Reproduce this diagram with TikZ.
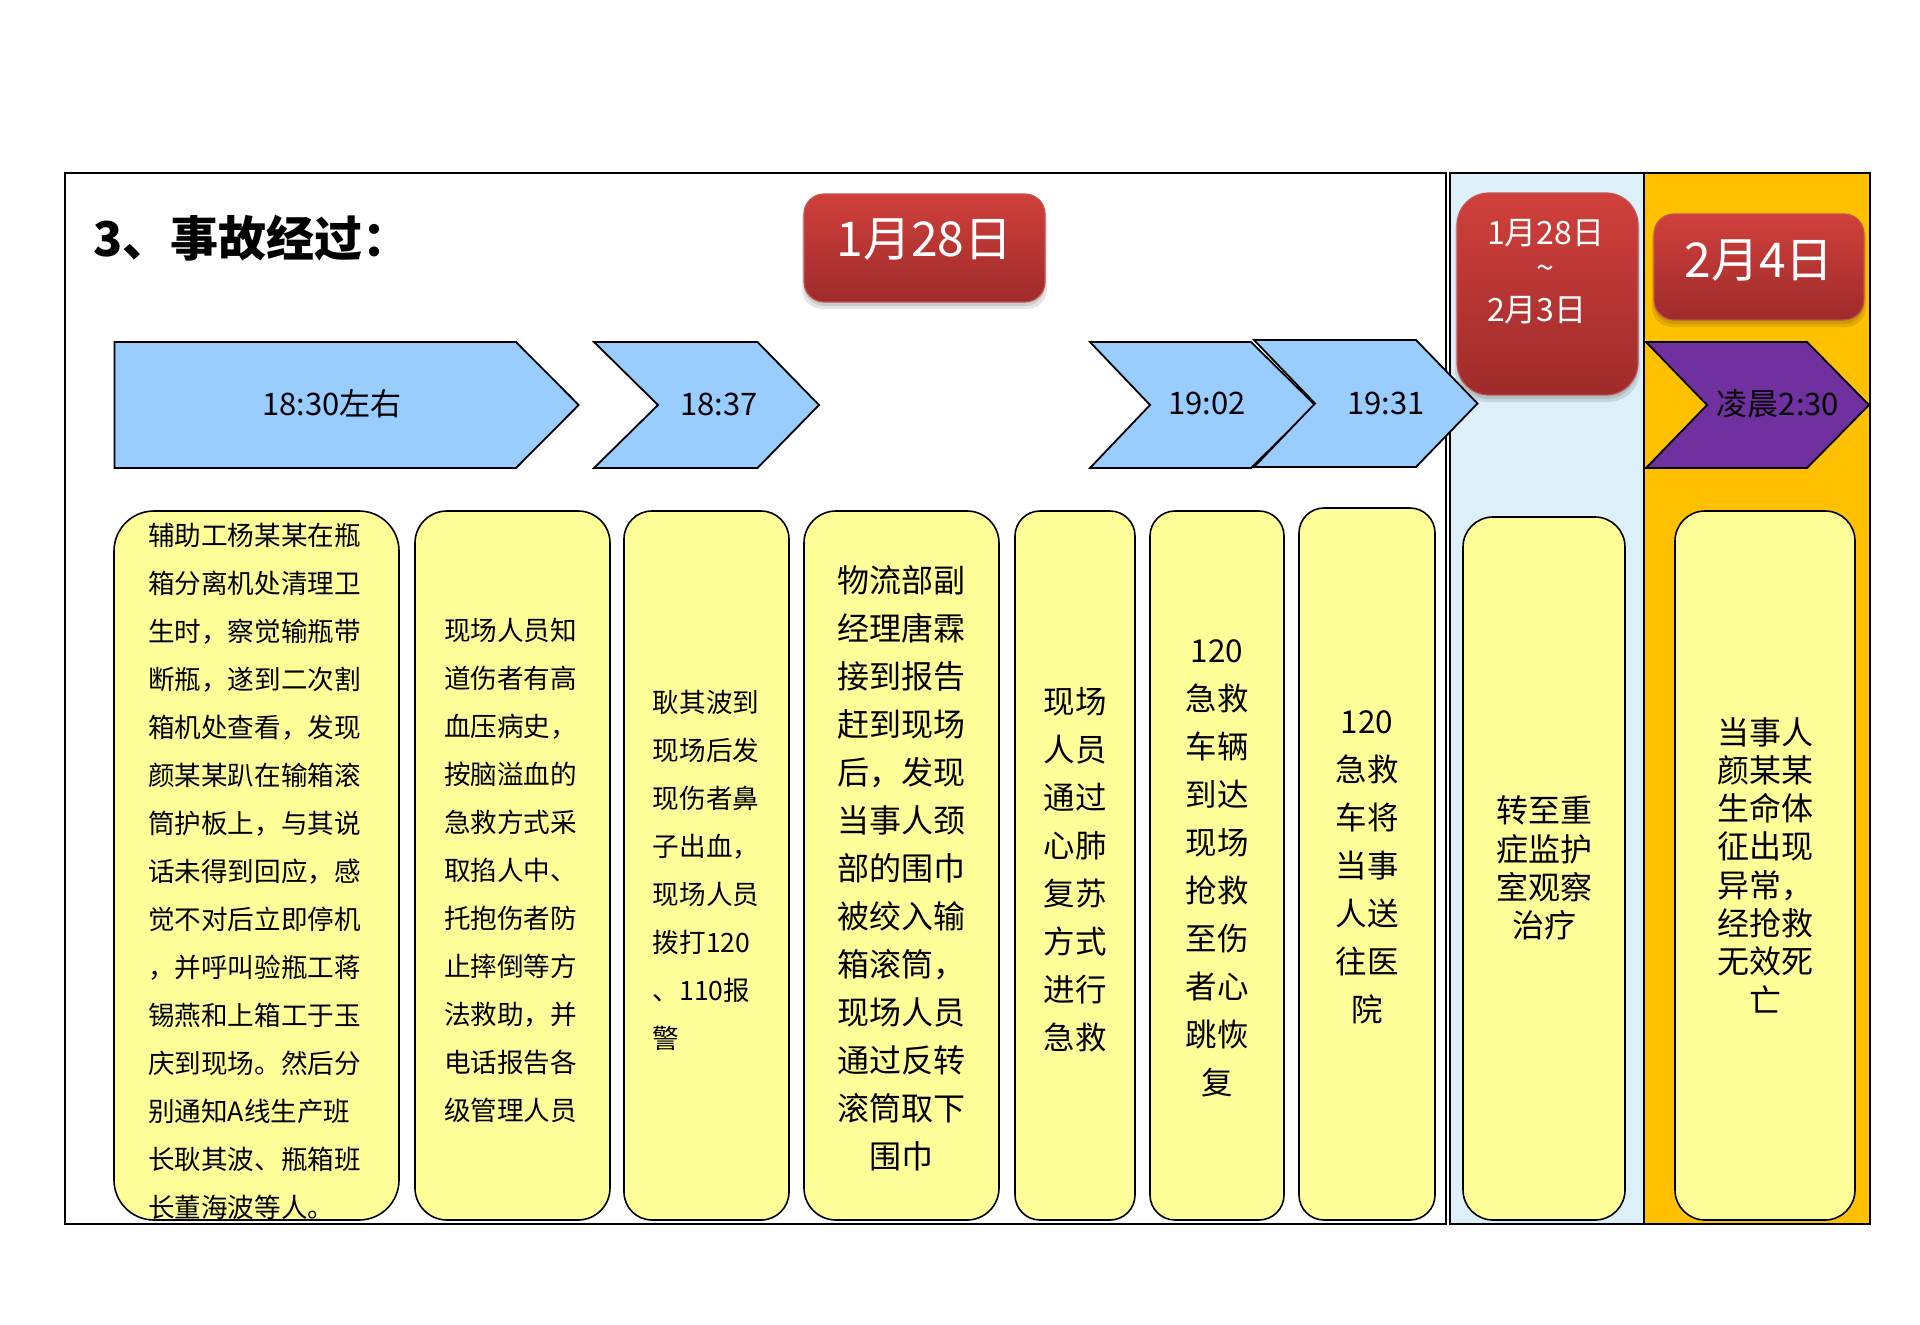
\documentclass[tikz,border=0pt]{standalone}
\usepackage{fontspec}
\setmainfont{Noto Sans CJK SC}
\definecolor{chevblue}{HTML}{99CCFF}
\definecolor{panelblue}{HTML}{DDEFF9}
\definecolor{panelorange}{HTML}{FFC000}
\definecolor{chevpurple}{HTML}{7030A0}
\definecolor{boxyellow}{HTML}{FFFF99}
\definecolor{redtop}{HTML}{D0403B}
\definecolor{redbot}{HTML}{9E2B2B}
\definecolor{redline}{HTML}{C25450}
\begin{document}
\begin{tikzpicture}[x=1pt,y=-1pt,
  ybox/.style={draw=black, line width=1.6pt, fill=boxyellow, inner sep=0pt},
  chev/.style={draw=black, line width=1.8pt, fill=chevblue, line join=miter},
  badgebox/.style={draw=redline, line width=1.2pt, top color=redtop, bottom color=redbot, inner sep=0pt},
  shadowbox/.style={fill=black, opacity=0.10, inner sep=0pt, draw=none},
  smalltxt/.style={inner sep=0pt, text=black, align=left, font=\fontsize{26.6}{48}\selectfont},
  bigtxt/.style={inner sep=0pt, text=black, align=center, font=\fontsize{31.5}{48}\selectfont},
  tighttxt/.style={inner sep=0pt, text=black, align=center, font=\fontsize{32}{38.3}\selectfont},
  chevtxt/.style={inner sep=0pt, text=black, font=\fontsize{31}{36}\selectfont},
  datetxt/.style={inner sep=0pt, text=white, font=\fontsize{48}{56}\selectfont},
  smalldate/.style={inner sep=0pt, text=white, font=\fontsize{32}{38}\selectfont}
]
\useasboundingbox (0,0) rectangle (1920,1325);
\fill[white] (0,0) rectangle (1920,1325);

% panels
\draw[line width=2pt, fill=white] (65,173) rectangle (1446,1224);
\fill[panelblue] (1450,173) rectangle (1644,1224);
\fill[panelorange] (1644,173) rectangle (1870,1224);
\draw[line width=1.5pt] (1644,173) -- (1644,1224);
\draw[line width=2pt] (1450,173) rectangle (1870,1224);

% title
\node[anchor=west, inner sep=0pt, font=\fontsize{48}{58}\selectfont\bfseries] (title) at (93,238) {3、事故经过：};

% badges
\node[shadowbox, rounded corners=20pt, minimum width=245pt, minimum height=110pt] (s1) at (924.5,254) {};
\node[shadowbox, rounded corners=20pt, minimum width=241pt, minimum height=108pt] (s1b) at (924.5,252) {};
\node[badgebox, rounded corners=20pt, minimum width=241pt, minimum height=108pt] (d1) at (924.5,248) {};
\node[datetxt] (d1t) at (924.5,240) {1月28日};

\node[shadowbox, rounded corners=32pt, minimum width=185pt, minimum height=204pt] (s2) at (1547.5,300) {};
\node[shadowbox, rounded corners=32pt, minimum width=181pt, minimum height=202pt] (s2b) at (1547.5,298) {};
\node[badgebox, rounded corners=32pt, minimum width=181pt, minimum height=202pt] (d2) at (1547.5,294) {};
\node[smalldate, anchor=west] (d2a) at (1487,233) {1月28日};
\node[smalldate] (d2b) at (1545,272) {\raisebox{0pt}{\char`\~}};
\node[smalldate, anchor=west] (d2c) at (1487,310) {2月3日};

\node[shadowbox, rounded corners=20pt, minimum width=214pt, minimum height=108pt] (s3) at (1759,273) {};
\node[shadowbox, rounded corners=20pt, minimum width=210pt, minimum height=106pt] (s3b) at (1759,271) {};
\node[badgebox, rounded corners=20pt, minimum width=210pt, minimum height=106pt] (d3) at (1759,267) {};
\node[datetxt] (d3t) at (1759,261) {2月4日};

% chevrons
\draw[chev] (114.5,342) -- (516,342) -- (578.7,405) -- (516,468) -- (114.5,468) -- cycle;
\node[chevtxt] (c1) at (332,404) {18:30左右};
\draw[chev] (594,342) -- (757.5,342) -- (819,405) -- (757.5,468) -- (594,468) -- (658,405) -- cycle;
\node[chevtxt] (c2) at (719,404) {18:37};
\draw[chev] (1090,342) -- (1251,342) -- (1315,405) -- (1251,468) -- (1090,468) -- (1150,405) -- cycle;
\node[chevtxt] (c3) at (1207,403) {19:02};
\draw[chev] (1254,340) -- (1416,340) -- (1477.5,403.5) -- (1416,467) -- (1254,467) -- (1315,403.5) -- cycle;
\node[chevtxt] (c4) at (1386,403) {19:31};
\draw[chev, fill=chevpurple] (1646,342) -- (1807,342) -- (1869,405) -- (1807,468) -- (1646,468) -- (1707,405) -- cycle;
\node[chevtxt] (c5) at (1778,404) {凌晨2:30};

% yellow boxes
\node[ybox, rounded corners=40pt, minimum width=285pt, minimum height=709pt] (b1) at (256.5,865.5) {};
\node[ybox, rounded corners=32pt, minimum width=195pt, minimum height=709pt] (b2) at (512.5,865.5) {};
\node[ybox, rounded corners=28pt, minimum width=165pt, minimum height=709pt] (b3) at (706.5,865.5) {};
\node[ybox, rounded corners=32pt, minimum width=195pt, minimum height=709pt] (b4) at (901.5,865.5) {};
\node[ybox, rounded corners=25pt, minimum width=120pt, minimum height=709pt] (b5) at (1075,865.5) {};
\node[ybox, rounded corners=25pt, minimum width=134pt, minimum height=709pt] (b6) at (1217,865.5) {};
\node[ybox, rounded corners=25pt, minimum width=136pt, minimum height=712pt] (b7) at (1367,864) {};
\node[ybox, rounded corners=30pt, minimum width=162pt, minimum height=703pt] (b8) at (1544,868.5) {};
\node[ybox, rounded corners=30pt, minimum width=180pt, minimum height=709pt] (b9) at (1765,865.5) {};

% texts
\node[smalltxt] (t1) at (254.5,871) {辅助工杨某某在瓶\\箱分离机处清理卫\\生时，察觉输瓶带\\断瓶，遂到二次割\\箱机处查看，发现\\颜某某趴在输箱滚\\筒护板上，与其说\\话未得到回应，感\\觉不对后立即停机\\，并呼叫验瓶工蒋\\锡燕和上箱工于玉\\庆到现场。然后分\\别通知A线生产班\\长耿其波、瓶箱班\\长董海波等人。};
\node[smalltxt] (t2) at (510.5,870) {现场人员知\\道伤者有高\\血压病史，\\按脑溢血的\\急救方式采\\取掐人中、\\托抱伤者防\\止摔倒等方\\法救助，并\\电话报告各\\级管理人员};
\node[smalltxt] (t3) at (706,870) {耿其波到\\现场后发\\现伤者鼻\\子出血，\\现场人员\\拨打120\\、110报\\警};
\node[bigtxt, font=\fontsize{32}{48}\selectfont] (t4) at (901.5,868.7) {物流部副\\经理唐霖\\接到报告\\赶到现场\\后，发现\\当事人颈\\部的围巾\\被绞入输\\箱滚筒，\\现场人员\\通过反转\\滚筒取下\\围巾};
\node[bigtxt] (t5) at (1075,869.5) {现场\\人员\\通过\\心肺\\复苏\\方式\\进行\\急救};
\node[bigtxt] (t6) at (1217,868) {120\\急救\\车辆\\到达\\现场\\抢救\\至伤\\者心\\跳恢\\复};
\node[bigtxt] (t7) at (1367,867) {120\\急救\\车将\\当事\\人送\\往医\\院};
\node[tighttxt] (t8) at (1544,868) {转至重\\症监护\\室观察\\治疗};
\node[tighttxt] (t9) at (1765,865) {当事人\\颜某某\\生命体\\征出现\\异常，\\经抢救\\无效死\\亡};
\end{tikzpicture}
\end{document}
